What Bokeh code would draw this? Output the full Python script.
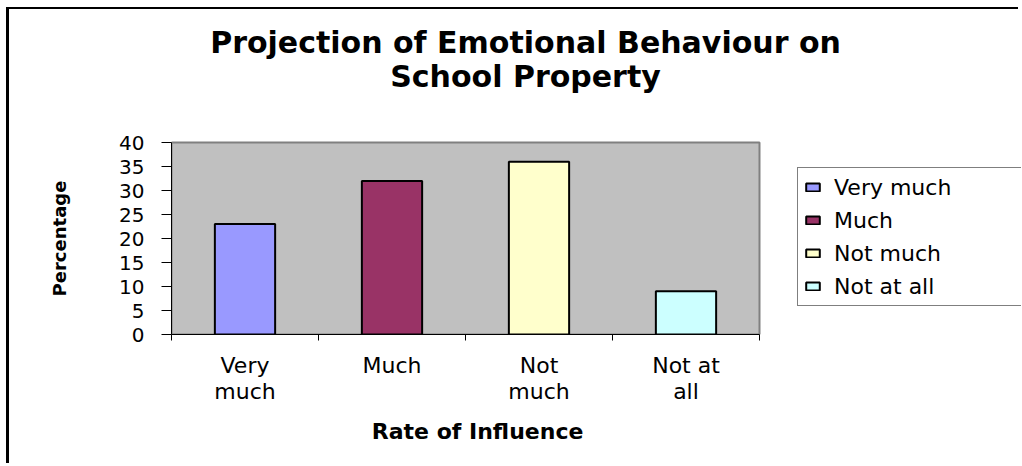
from bokeh.plotting import figure
from bokeh.models import (ColumnDataSource, Range1d, FixedTicker, Legend, LegendItem, Label,
                          LinearAxis)
from bokeh.embed import file_html
from bokeh.resources import INLINE

# ---- data ----
categories = ["Very much", "Much", "Not much", "Not at all"]
tick_labels = ["Very\nmuch", "Much", "Not\nmuch", "Not at\nall"]
percentages = [23, 32, 36, 9]
colors = ["#9999FF", "#993366", "#FFFFCC", "#CCFFFF"]
y_ticks = [0, 5, 10, 15, 20, 25, 30, 35, 40]

title_line1 = "Projection of Emotional Behaviour on"
title_line2 = "School Property"
x_title = "Rate of Influence"
y_title = "Percentage"

FONT = "DejaVu Sans"

# ---- layout (pixels) ----
CANVAS_W, CANVAS_H = 1012, 456
LEFT, BOTTOM = 162, 131          # borders around the frame
PLOT_W, PLOT_H = 588, 192        # grey plot area inside the frame
FRAME_W = CANVAS_W - LEFT
FRAME_H = CANVAS_H - BOTTOM
ORIGIN_X, ORIGIN_Y = 171, 334    # page position of plot-area bottom-left

n = len(categories)
ymax = y_ticks[-1]
x_end = n * FRAME_W / PLOT_W
y_end = ymax * FRAME_H / PLOT_H


def px_to_x(px):
    return (px - ORIGIN_X) / PLOT_W * n


def py_to_y(py):
    return (ORIGIN_Y - py) / PLOT_H * ymax


centers = [i + 0.5 for i in range(n)]
bounds = [i for i in range(n + 1)]

src = ColumnDataSource(dict(x=centers, top=percentages, color=colors, cat=categories))

p = figure(width=CANVAS_W, height=CANVAS_H, output_backend="svg", toolbar_location=None,
           x_range=Range1d(0, x_end), y_range=Range1d(0, y_end),
           min_border_left=LEFT, min_border_right=0, min_border_top=0,
           min_border_bottom=BOTTOM, title=None)
p.styles = {"border-left": "3px solid black", "border-top": "2px solid black",
            "margin-left": "6px", "margin-top": "7px"}

p.background_fill_color = "white"
p.border_fill_color = "white"
p.outline_line_color = None
p.grid.visible = False

# grey plot area
p.quad(left=[0], right=[n], bottom=[0], top=[ymax], fill_color="#C0C0C0",
       line_color="#808080", line_width=2)

r = p.vbar(x="x", top="top", bottom=0, width=0.41, source=src,
           fill_color="color", line_color="black", line_width=2)

# titles
for txt, py in ((title_line1, 42), (title_line2, 76)):
    p.add_layout(Label(x=px_to_x(525), y=py_to_y(py), text=txt, text_align="center",
                       text_baseline="middle", text_font=FONT, text_font_size="30px",
                       text_font_style="bold", text_color="black"))

# x axis
xa = p.xaxis[0]
xa.bounds = (0, n)
xa.ticker = FixedTicker(ticks=centers, minor_ticks=bounds)
xa.major_label_overrides = {c: lab for c, lab in zip(centers, tick_labels)}
xa.major_tick_out = 0
xa.major_tick_in = 0
xa.minor_tick_out = 6
xa.minor_tick_in = 0
xa.minor_tick_line_color = "black"
xa.axis_line_color = "black"
xa.major_label_text_font = FONT
xa.major_label_text_font_size = "22px"
xa.major_label_text_color = "black"
xa.major_label_text_line_height = 1.05
xa.major_label_standoff = 12

# x axis title, centred under the plot area
xt = round(px_to_x(477), 3)
xa2 = LinearAxis(ticker=FixedTicker(ticks=[xt], minor_ticks=[]),
                 major_label_overrides={xt: x_title},
                 axis_line_color=None, major_tick_line_color=None,
                 minor_tick_line_color=None, major_tick_out=0, major_tick_in=0,
                 major_label_standoff=12, major_label_text_font=FONT,
                 major_label_text_font_size="22px", major_label_text_font_style="bold",
                 major_label_text_color="black")
p.add_layout(xa2, "below")

# y axis
ya = p.yaxis[0]
ya.bounds = (0, ymax)
ya.ticker = FixedTicker(ticks=y_ticks)
ya.major_tick_out = 10
ya.major_tick_in = 0
ya.minor_tick_out = 0
ya.minor_tick_in = 0
ya.axis_line_color = "black"
ya.major_tick_line_color = "black"
ya.major_label_text_font = FONT
ya.major_label_text_font_size = "20px"
ya.major_label_text_color = "black"
ya.major_label_standoff = 17

# y axis title, centred beside the plot area
yt = ymax // 2
ya2 = LinearAxis(ticker=FixedTicker(ticks=[yt], minor_ticks=[]),
                 major_label_overrides={yt: y_title},
                 major_label_orientation="parallel",
                 axis_line_color=None, major_tick_line_color=None,
                 minor_tick_line_color=None, major_tick_out=0, major_tick_in=0,
                 major_label_standoff=47, major_label_text_font=FONT,
                 major_label_text_font_size="18px", major_label_text_font_style="bold",
                 major_label_text_color="black")
p.add_layout(ya2, "left")

# legend
items = [LegendItem(label=c, renderers=[r], index=i) for i, c in enumerate(categories)]
legend = Legend(items=items, location=(626, 28), padding=6, spacing=7,
                label_height=26, glyph_width=17, glyph_height=10, label_standoff=13,
                label_width=250, border_line_color="black", border_line_width=1,
                background_fill_color="white", background_fill_alpha=1.0,
                label_text_font=FONT, label_text_font_size="22px", label_text_color="black",
                margin=0)
p.add_layout(legend, "center")

open("out.html", "w").write(file_html(p, INLINE))
